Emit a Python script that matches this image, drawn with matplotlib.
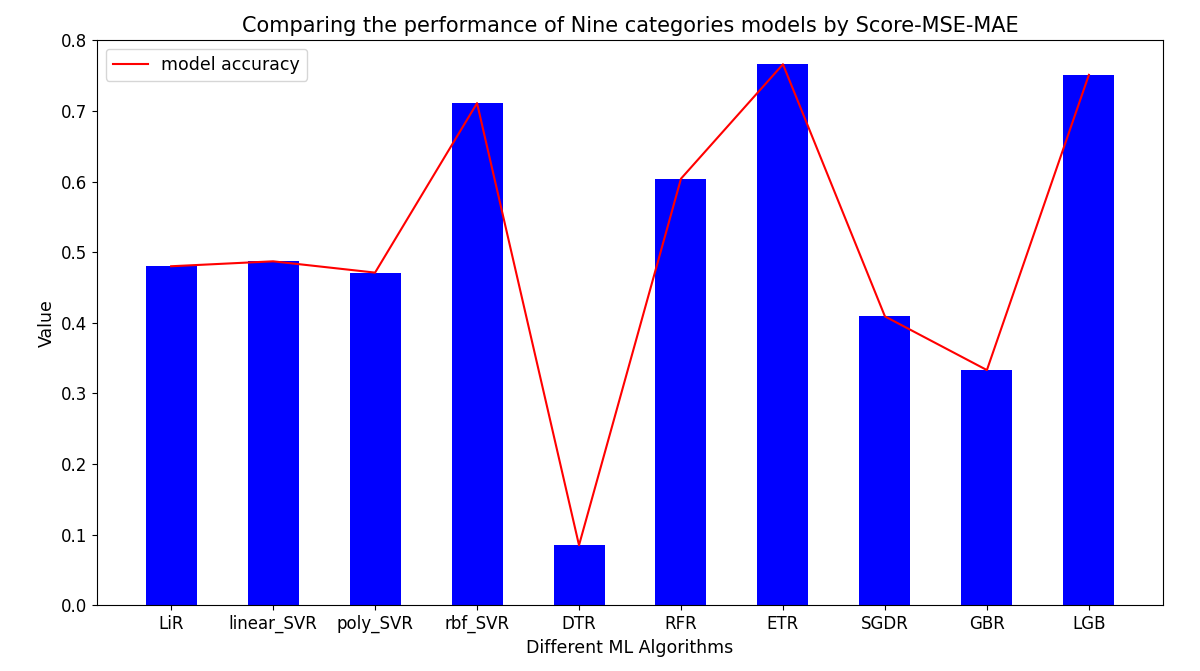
import numpy as np
import matplotlib
matplotlib.use('Agg')
import matplotlib.pyplot as plt


models = ['LiR', 'linear_SVR', 'poly_SVR', 'rbf_SVR', 'DTR',
          'RFR', 'ETR', 'SGDR', 'GBR', 'LGB']
scores = [0.480, 0.487, 0.471, 0.711, 0.085,
          0.604, 0.766, 0.409, 0.333, 0.751]

fig = plt.figure(figsize=(12, 6.71), dpi=100)
ax = fig.add_axes([0.081, 0.098, 0.888, 0.842])

x = np.arange(len(models))
ax.bar(x, scores, width=0.5, color='blue')
ax.plot(x, scores, color='red', label='model accuracy')

ax.set_xticks(x)
ax.set_xticklabels(models)
ax.set_ylim(0, 0.8)
ax.set_title('Comparing the performance of Nine categories models by Score-MSE-MAE',
             fontsize=15)
ax.set_xlabel('Different ML Algorithms', fontsize=12.5)
ax.set_ylabel('Value', fontsize=12.5)
ax.tick_params(labelsize=12)
ax.legend(loc='upper left', fontsize=12.5)

fig.savefig('out.png')
